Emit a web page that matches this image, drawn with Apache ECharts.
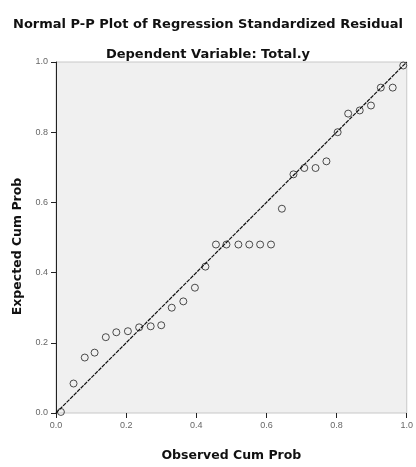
<!DOCTYPE html>
<html>
<head>
<meta charset="utf-8">
<script src="https://cdn.jsdelivr.net/npm/echarts@6/dist/echarts.min.js"></script>
<style>
  html, body { margin: 0; padding: 0; background: #fff; }
  #container { width: 416px; height: 467px; }
</style>
</head>
<body>
<div id="container"></div>
<script>
// observed vs expected cumulative probability
var observed = [0.014, 0.05, 0.082, 0.11, 0.142, 0.172, 0.205, 0.237, 0.27, 0.30,
  0.33, 0.363, 0.396, 0.426, 0.456, 0.486, 0.52, 0.551, 0.582, 0.613,
  0.644, 0.677, 0.708, 0.74, 0.771, 0.803, 0.833, 0.866, 0.898, 0.926,
  0.96, 0.99];
var expected = [0.003, 0.084, 0.158, 0.172, 0.216, 0.230, 0.233, 0.244, 0.247, 0.25,
  0.30, 0.318, 0.357, 0.417, 0.48, 0.48, 0.48, 0.48, 0.48, 0.48,
  0.582, 0.68, 0.698, 0.698, 0.717, 0.80, 0.853, 0.862, 0.876, 0.927,
  0.927, 0.99];
var tickLabels = ['0.0', '0.2', '0.4', '0.6', '0.8', '1.0'];
var refLine = [[0, 0], [1, 1]];

var points = [];
for (var i = 0; i < observed.length; i++) {
  points.push([observed[i], expected[i]]);
}

function tickFmt(v) {
  return tickLabels[Math.round(v / 0.2)];
}

var boldText = { fontFamily: 'DejaVu Sans', fontWeight: 'bold', color: '#111' };

var myChart = echarts.init(document.getElementById('container'));
var option = {
  animation: false,
  backgroundColor: '#ffffff',
  title: [
    {
      text: 'Normal P-P Plot of Regression Standardized Residual',
      left: 'center', top: 13,
      textStyle: Object.assign({ fontSize: 13 }, boldText)
    },
    {
      text: 'Dependent Variable: Total.y',
      left: 'center', top: 43,
      textStyle: Object.assign({ fontSize: 13 }, boldText)
    }
  ],
  grid: {
    left: 56, right: 5, top: 62, bottom: 47,
    show: true, backgroundColor: '#f0f0f0', borderColor: '#c8c8c8', borderWidth: 1
  },
  xAxis: {
    type: 'value', min: 0, max: 1, interval: 0.2,
    name: 'Observed Cum Prob', nameLocation: 'middle', nameGap: 36,
    nameTextStyle: Object.assign({ fontSize: 12.5 }, boldText),
    axisLine: { show: false },
    axisTick: { show: true, length: 5, lineStyle: { color: '#222' } },
    axisLabel: { formatter: tickFmt, fontSize: 9, color: '#666', margin: 8 },
    splitLine: { show: false }
  },
  yAxis: {
    type: 'value', min: 0, max: 1, interval: 0.2,
    name: 'Expected Cum Prob', nameLocation: 'middle', nameGap: 26,
    nameTextStyle: Object.assign({ fontSize: 12.5, padding: [0, 18, 0, 0] }, boldText),
    axisLine: { show: true, lineStyle: { color: '#222', width: 1 } },
    axisTick: { show: true, length: 5, lineStyle: { color: '#222' } },
    axisLabel: { formatter: tickFmt, fontSize: 9, color: '#666', margin: 8 },
    splitLine: { show: false }
  },
  series: [
    {
      type: 'line',
      data: refLine,
      symbol: 'none',
      silent: true,
      lineStyle: { color: '#111', width: 1.2, type: [4, 1] }
    },
    {
      type: 'scatter',
      data: points,
      symbol: 'circle',
      symbolSize: 7,
      itemStyle: { color: 'rgba(0,0,0,0)', borderColor: '#222', borderWidth: 1 }
    }
  ]
};
myChart.setOption(option);
</script>
</body>
</html>
